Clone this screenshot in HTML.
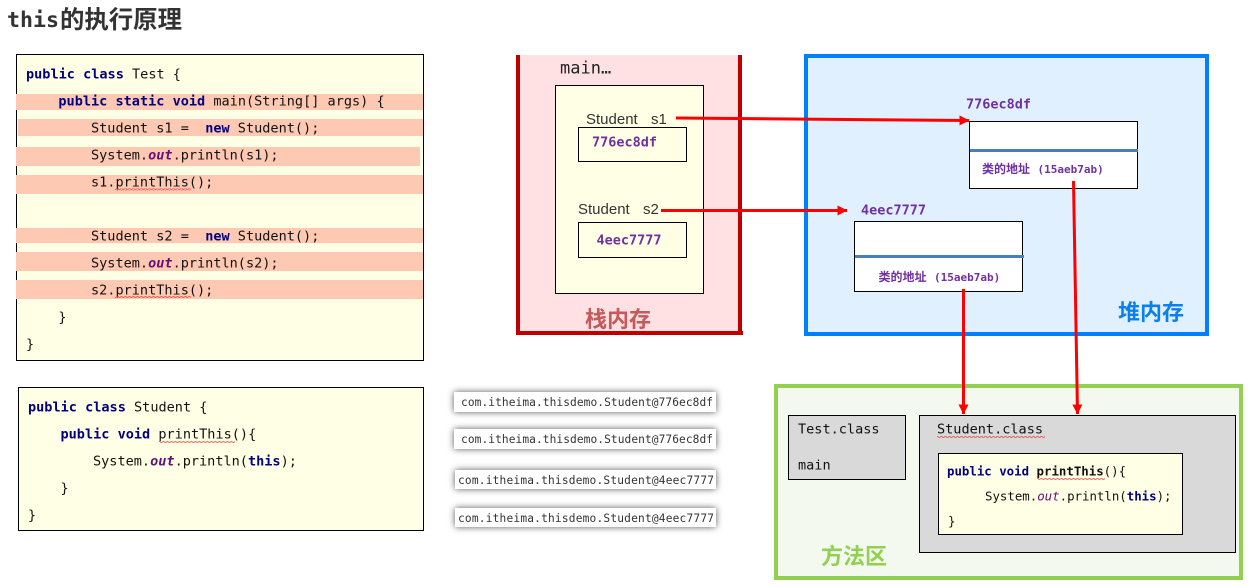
<!DOCTYPE html>
<html><head><meta charset="utf-8"><style>
html,body{margin:0;padding:0;background:#fff}
svg{display:block}
text{white-space:pre}
.m{font-family:"DejaVu Sans Mono","Liberation Mono",monospace;font-size:13.55px;fill:#111}
.k{font-weight:bold;fill:#000080}
.o{font-weight:bold;font-style:italic;fill:#660e7a}
.s{font-family:"Liberation Sans","Noto Sans CJK SC",sans-serif;font-size:15px;fill:#333}
.v{font-family:"DejaVu Sans Mono",monospace;font-weight:bold;font-size:13.5px;fill:#7030a0}
.c{font-family:"DejaVu Sans Mono",monospace;font-weight:bold;font-size:11px;fill:#7030a0}
.cj{font-family:"Noto Sans CJK SC",sans-serif;font-size:12px}
.h{font-family:"Liberation Sans","Noto Sans CJK SC",sans-serif;font-weight:bold;font-size:22px}
.p{font-family:"DejaVu Sans Mono",monospace;font-size:11.2px;fill:#333}
.i{font-size:12.4px}
</style></head><body>
<svg xmlns="http://www.w3.org/2000/svg" width="1256" height="587" viewBox="0 0 1256 587">
<defs>
<pattern id="w" width="4" height="2" patternUnits="userSpaceOnUse"><path d="M0 1.5L1 .5L2 .5L3 1.5L4 1.5" fill="none" stroke="#e84040" stroke-width=".7"/></pattern>
<filter id="sh" x="-5%" y="-50%" width="110%" height="200%"><feDropShadow dx="0" dy="0" stdDeviation="3.5" flood-color="#000" flood-opacity=".65"/></filter>
<marker id="a" markerWidth="10" markerHeight="10" refX="9.500" refY="5" orient="auto" markerUnits="userSpaceOnUse"><path d="M0 0L10 5L0 10Z" fill="#f00"/></marker>
</defs>

<text x="7" y="27" font-family="'DejaVu Sans Mono',monospace" font-weight="bold" fill="#333"><tspan font-size="21.6">this</tspan><tspan x="60" y="28" font-size="24.4" font-family="'Noto Sans CJK SC',sans-serif">的执行原理</tspan></text>

<!-- Test -->
<rect x="16.500" y="54.500" width="407" height="306" fill="#ffffe5" stroke="#000"/>
<g fill="#fec9b2">
<rect x="16" y="94" width="407" height="16"/>
<rect x="18" y="119" width="405" height="17"/>
<rect x="16" y="147" width="404" height="19"/>
<rect x="16" y="175" width="407" height="19"/>
<rect x="16" y="228" width="407" height="15"/>
<rect x="16" y="252" width="407" height="19"/>
<rect x="16" y="280" width="407" height="19"/>
</g>
<text class="m" x="26" y="78.500"><tspan class="k">public class</tspan> Test {</text>
<text class="m" x="58.400" y="105.500"><tspan class="k">public static void</tspan> main(String[] args) {</text>
<text class="m" x="91" y="132.500">Student s1 =  <tspan class="k">new</tspan> Student();</text>
<text class="m" x="91" y="159.500">System.<tspan class="o">out</tspan>.println(s1);</text>
<text class="m" x="91" y="186.500">s1.printThis();</text>
<text class="m" x="91" y="240.500">Student s2 =  <tspan class="k">new</tspan> Student();</text>
<text class="m" x="91" y="267.500">System.<tspan class="o">out</tspan>.println(s2);</text>
<text class="m" x="91" y="294.500">s2.printThis();</text>
<text class="m" x="58.400" y="321.500">}</text>
<text class="m" x="26" y="348.500">}</text>
<rect x="115" y="188.500" width="76" height="2" fill="url(#w)"/>
<rect x="115" y="296" width="76" height="2" fill="url(#w)"/>

<!-- Student -->
<rect x="18.500" y="387.500" width="405" height="143" fill="#ffffe5" stroke="#000"/>
<text class="m" x="28" y="411.500"><tspan class="k">public class</tspan> Student {</text>
<text class="m" x="60.500" y="438.500"><tspan class="k">public void</tspan> printThis(){</text>
<text class="m" x="93" y="465.500">System.<tspan class="o">out</tspan>.println(<tspan class="k">this</tspan>);</text>
<text class="m" x="60.500" y="492.500">}</text>
<text class="m" x="28" y="519.500">}</text>
<rect x="159" y="441" width="76" height="2" fill="url(#w)"/>

<!-- outputs -->
<g fill="#fff" filter="url(#sh)">
<rect x="454" y="392" width="262" height="20"/>
<rect x="454" y="429" width="262" height="20"/>
<rect x="455" y="470" width="261" height="19"/>
<rect x="455" y="508" width="261" height="19"/>
</g>
<text class="p" x="461" y="406" textLength="252">com.itheima.thisdemo.Student@776ec8df</text>
<text class="p" x="461" y="443" textLength="252">com.itheima.thisdemo.Student@776ec8df</text>
<text class="p" x="458" y="484" textLength="256">com.itheima.thisdemo.Student@4eec7777</text>
<text class="p" x="458" y="522" textLength="256">com.itheima.thisdemo.Student@4eec7777</text>

<!-- stack -->
<rect x="518" y="55" width="224" height="278" fill="#ffe1e3"/>
<path d="M518 55V333H740V55" fill="none" stroke="#c00000" stroke-width="4"/>
<rect x="517" y="331" width="226" height="4" fill="#c00000"/>
<text x="560" y="73.500" font-family="'DejaVu Sans Mono',monospace" font-size="17" fill="#222">main…</text>
<rect x="555.500" y="85.500" width="148" height="208" fill="#ffffe5" stroke="#000"/>
<text class="s" x="586" y="124">Student<tspan x="651">s1</tspan></text>
<rect x="578.500" y="127.500" width="108" height="34" fill="#ffffe5" stroke="#000"/>
<text class="v" x="592" y="146.500">776ec8df</text>
<text class="s" x="578" y="214">Student<tspan x="643">s2</tspan></text>
<rect x="578.500" y="222.500" width="108" height="35" fill="#ffffe5" stroke="#000"/>
<text class="v" x="596.500" y="244.500">4eec7777</text>
<text class="h" x="585" y="327" fill="#c55a5a">栈内存</text>

<!-- heap -->
<rect x="806" y="56" width="401" height="278" fill="#e1f0ff" stroke="#0080ff" stroke-width="4"/>
<text class="v" x="966" y="108.500">776ec8df</text>
<rect x="969.500" y="121.500" width="168" height="67" fill="#fff" stroke="#000"/>
<rect x="970" y="149" width="168" height="3" fill="#4a7ebb"/>
<text class="c" x="982" y="173"><tspan class="cj">类的地址</tspan><tspan x="1037.500">(15aeb7ab)</tspan></text>
<text class="v" x="861" y="214.500">4eec7777</text>
<rect x="854.500" y="221.500" width="168" height="70" fill="#fff" stroke="#000"/>
<rect x="855" y="255" width="169" height="3" fill="#4a7ebb"/>
<text class="c" x="878.500" y="281"><tspan class="cj">类的地址</tspan><tspan x="934">(15aeb7ab)</tspan></text>
<text class="h" x="1118" y="320" fill="#0a80f0">堆内存</text>

<!-- method area -->
<rect x="776" y="386" width="465" height="192" fill="#f4f9ef" stroke="#92d050" stroke-width="4"/>
<rect x="788.500" y="415.500" width="117" height="64" fill="#d9d9d9" stroke="#000"/>
<text class="m" x="798" y="433.500">Test.class</text>
<text class="m" x="798" y="469.500">main</text>
<rect x="919.500" y="415.500" width="316" height="137" fill="#d9d9d9" stroke="#000"/>
<text class="m" x="937" y="433.500">Student.class</text>
<rect x="937" y="436" width="108" height="2" fill="url(#w)"/>
<rect x="938.500" y="453.500" width="244" height="81" fill="#ffffe5" stroke="#000"/>
<text class="m i" x="947" y="475.500"><tspan class="k">public void</tspan> <tspan font-weight="bold">printThis</tspan>(){</text>
<text class="m i" x="985" y="500.500">System.<tspan font-style="italic" fill="#660e7a">out</tspan>.println(<tspan fill="#000080" font-weight="bold">this</tspan>);</text>
<text class="m i" x="948" y="525.500">}</text>
<rect x="1037" y="478" width="68" height="2" fill="url(#w)"/>
<text class="h" x="821" y="564" fill="#92d050">方法区</text>

<!-- arrows -->
<g stroke="#f00" stroke-width="3" fill="none">
<line x1="676" y1="118" x2="969" y2="120.500" marker-end="url(#a)"/>
<line x1="661" y1="210.500" x2="847" y2="210.500" marker-end="url(#a)"/>
<line x1="963.500" y1="289" x2="963.500" y2="414" marker-end="url(#a)"/>
<line x1="1073.500" y1="181" x2="1077.500" y2="414" marker-end="url(#a)"/>
</g>
</svg>
</body></html>
